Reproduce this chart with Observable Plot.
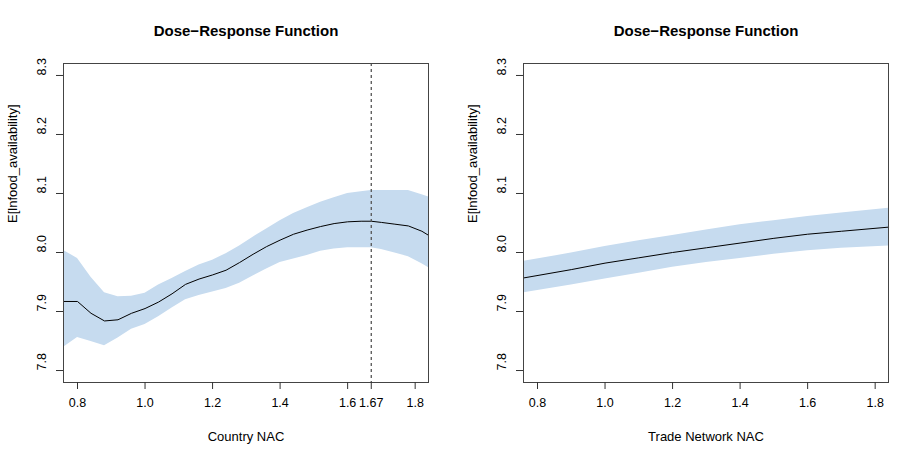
<!DOCTYPE html>
<html>
<head>
<meta charset="utf-8">
<script src="https://cdn.jsdelivr.net/npm/d3@7"></script>
<script src="https://cdn.jsdelivr.net/npm/@observablehq/plot@0.6"></script>
<style>
  body { margin: 0; background: #fff; }
  #row { display: flex; width: 920px; height: 460px; }
</style>
</head>
<body>
<div id="row"></div>
<script>
// ---- Data ----
const title = "Dose\u2212Response Function";
const yLabel = "E[lnfood_availability]";
const yTicks = [7.8, 7.9, 8.0, 8.1, 8.2, 8.3];

// Left panel: Country NAC
const leftXLabel = "Country NAC";
const leftXTicks = [0.8, 1.0, 1.2, 1.4, 1.6, 1.67, 1.8];
const leftMarker = 1.67;
const leftX = [0.76,0.80,0.84,0.88,0.92,0.96,1.00,1.04,1.08,1.12,1.16,1.20,1.24,1.28,1.32,1.36,1.40,1.44,1.48,1.52,1.56,1.60,1.64,1.67,1.70,1.74,1.78,1.82,1.84];
const leftMean = [7.917,7.917,7.897,7.884,7.886,7.897,7.905,7.916,7.930,7.946,7.955,7.962,7.970,7.983,7.997,8.010,8.021,8.031,8.038,8.044,8.049,8.052,8.053,8.053,8.051,8.048,8.045,8.036,8.029];
const leftUpper = [8.003,7.990,7.958,7.932,7.925,7.926,7.931,7.945,7.956,7.968,7.979,7.987,7.998,8.011,8.026,8.040,8.054,8.066,8.076,8.085,8.093,8.100,8.103,8.105,8.105,8.105,8.105,8.098,8.094];
const leftLower = [7.840,7.856,7.849,7.842,7.855,7.870,7.878,7.891,7.906,7.920,7.927,7.933,7.939,7.948,7.960,7.972,7.983,7.989,7.995,8.002,8.006,8.008,8.008,8.008,8.005,7.999,7.993,7.981,7.974];

// Right panel: Trade Network NAC
const rightXLabel = "Trade Network NAC";
const rightXTicks = [0.8, 1.0, 1.2, 1.4, 1.6, 1.8];
const rightX = [0.76,0.90,1.00,1.10,1.20,1.30,1.40,1.50,1.60,1.70,1.84];
const rightMean = [7.957,7.971,7.982,7.991,8.000,8.008,8.016,8.024,8.031,8.036,8.043];
const rightUpper = [7.985,7.999,8.010,8.020,8.029,8.038,8.047,8.054,8.061,8.067,8.075];
const rightLower = [7.932,7.945,7.955,7.965,7.975,7.983,7.990,7.997,8.003,8.007,8.011];

const xDomain = [0.7585, 1.8395];
const yDomain = [7.7797, 8.3203];

function panel(xs, mean, lower, upper, xTicks, xLabel, marker) {
  const data = xs.map((x, i) => ({x, mean: mean[i], lower: lower[i], upper: upper[i]}));
  const marks = [
    Plot.areaY(data, {x: "x", y1: "lower", y2: "upper", fill: "#c6dbef"}),
    Plot.line(data, {x: "x", y: "mean", stroke: "#000", strokeWidth: 1}),
  ];
  if (marker != null) {
    marks.push(Plot.ruleX([marker], {stroke: "#555", strokeWidth: 1.3, strokeDasharray: "3,3"}));
  }
  marks.push(
    Plot.frame({stroke: "#444", strokeWidth: 1}),
    Plot.axisX({ticks: xTicks, tickSize: 7, tickPadding: 9, fontSize: 12.5, tickFormat: d => d === 1.67 ? "1.67" : d.toFixed(1), label: null, stroke: "#333", fill: "#000"}),
    Plot.axisY({ticks: yTicks, tickSize: 7, tickFormat: () => "", label: null, stroke: "#333"}),
    Plot.text(yTicks, {y: d => d, text: d => d.toFixed(1), frameAnchor: "left", dx: -22, rotate: -90, lineAnchor: "middle", fontSize: 12.5, fill: "#000"}),
    Plot.text([title], {frameAnchor: "top", dy: -32, lineAnchor: "middle", fontWeight: "bold", fontSize: 15, fill: "#000"}),
    Plot.text([xLabel], {frameAnchor: "bottom", dy: 54, lineAnchor: "middle", fill: "#000"}),
    Plot.text([yLabel], {frameAnchor: "left", dx: -51, rotate: -90, lineAnchor: "middle", fill: "#000"})
  );
  return Plot.plot({
    width: 460,
    height: 460,
    marginLeft: 63,
    marginRight: 32,
    marginTop: 63,
    marginBottom: 78,
    x: {domain: xDomain},
    y: {domain: yDomain},
    style: {fontFamily: "'Liberation Sans', Arimo, Helvetica, Arial, sans-serif", fontSize: "13px", background: "#fff", color: "#000"},
    marks
  });
}

const row = document.getElementById("row");
row.appendChild(panel(leftX, leftMean, leftLower, leftUpper, leftXTicks, leftXLabel, leftMarker));
row.appendChild(panel(rightX, rightMean, rightLower, rightUpper, rightXTicks, rightXLabel, null));
</script>
</body>
</html>
